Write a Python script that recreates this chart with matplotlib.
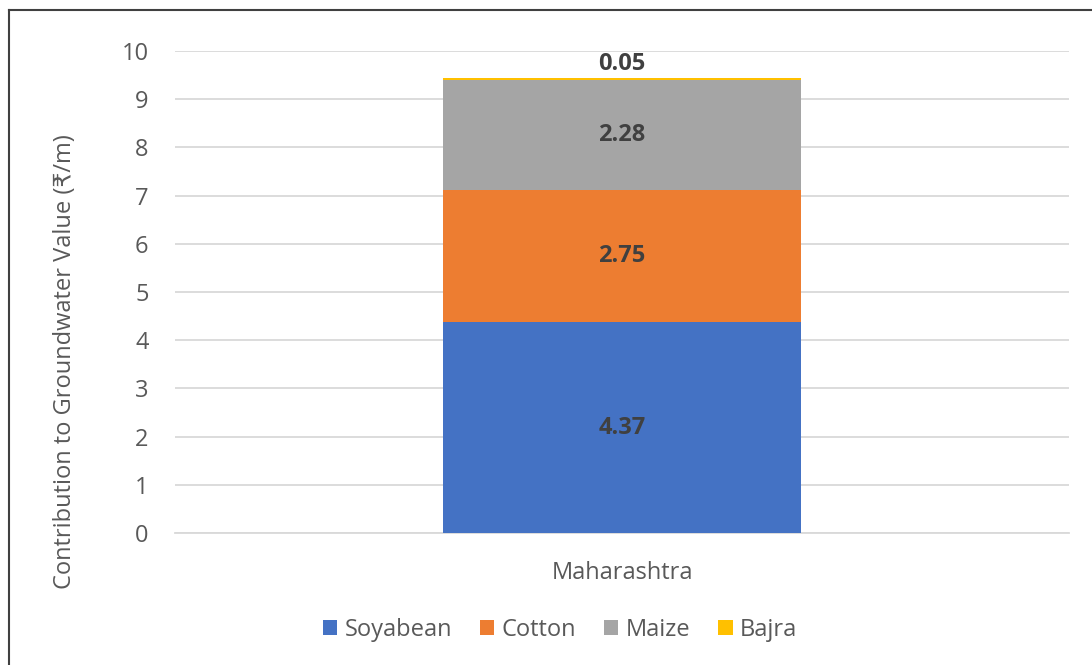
import matplotlib
matplotlib.use('Agg')
import matplotlib.pyplot as plt
from matplotlib.lines import Line2D

plt.rcParams['font.family'] = ['Open Sans', 'DejaVu Sans']

# data
region = ['Maharashtra']
crops = ['Soyabean', 'Cotton', 'Maize', 'Bajra']
values = [4.37, 2.75, 2.28, 0.05]
colors = ['#4472C4', '#ED7D31', '#A5A5A5', '#FFC000']
yticks = [0, 1, 2, 3, 4, 5, 6, 7, 8, 9, 10]

fig = plt.figure(figsize=(10.92, 6.65), dpi=100)
ax = fig.add_axes([175/1092, 1-533/665, (1069-175)/1092, (533-51)/665])

bottom = 0
for name, v, c in zip(crops, values, colors):
    ax.bar(0, v, width=0.4, bottom=bottom, color=c, label=name, zorder=3)
    if v > 0.5:
        ax.text(0, bottom + v/2, '%.2f' % v, ha='center', va='center',
                fontsize=17, fontweight='bold', color='#404040', zorder=4)
    else:
        ax.text(0, bottom + v + 0.04, '%.2f' % v, ha='center', va='bottom',
                fontsize=17, fontweight='bold', color='#404040', zorder=4)
    bottom += v

ax.set_xlim(-0.5, 0.5)
ax.set_ylim(0, 10)
ax.set_yticks(yticks)
ax.set_xticks([0])
ax.set_xticklabels(region)
ax.grid(axis='y', color='#D9D9D9', linewidth=1.3, zorder=0)
for s in ['top', 'right', 'left']:
    ax.spines[s].set_visible(False)
ax.spines['bottom'].set_color('#D9D9D9')
ax.spines['bottom'].set_linewidth(1.3)
ax.tick_params(axis='both', length=0, labelsize=17, colors='#595959')
ax.tick_params(axis='y', pad=19)
ax.tick_params(axis='x', pad=20)

fig.text(65/1092, 1-362/665, 'Contribution to Groundwater Value (₹/m)',
         rotation=90, ha='center', va='center', fontsize=17, color='#595959')

fig.legend(loc='center', bbox_to_anchor=(560/1092, 1-630/665), ncol=4,
           frameon=False, fontsize=17, handlelength=0.6, handleheight=0.6,
           handletextpad=0.3, columnspacing=1.2, labelcolor='#595959')

# outer frame (top and left visible only)
fig.add_artist(Line2D([9/1092, 1], [1-10/665, 1-10/665], color='#404040', lw=1.5))
fig.add_artist(Line2D([9/1092, 9/1092], [0, 1-10/665], color='#404040', lw=1.5))

fig.savefig('out.png', dpi=100)
